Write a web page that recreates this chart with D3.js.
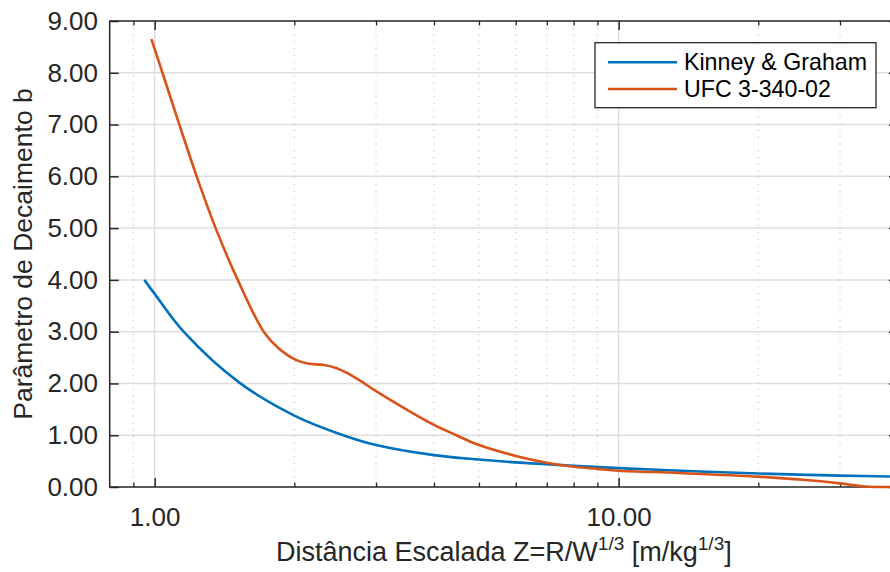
<!DOCTYPE html>
<html>
<head>
<meta charset="utf-8">
<script src="https://cdn.jsdelivr.net/npm/d3@7"></script>
<style>
  body { margin: 0; background: #fff; }
  svg { display: block; }
  text { font-family: "Liberation Sans", Arial, Helvetica, sans-serif; }
</style>
</head>
<body>
<svg id="chart" width="890" height="572"></svg>
<script>
// Decay parameter b versus scaled distance Z
const seriesNames = ["Kinney & Graham", "UFC 3-340-02"];
const seriesColors = ["#0072BD", "#D95319"];

const kinneyZ = [0.95, 1.0, 1.16, 1.52, 2.0, 2.55, 3.0, 4.0, 5.0, 6.0, 7.0, 8.0, 10.0, 15.0, 20, 30, 40];
const kinneyB = [4.00, 3.73, 2.98, 2.02, 1.38, 1.00, 0.81, 0.615, 0.53, 0.475, 0.44, 0.41, 0.365, 0.30, 0.26, 0.22, 0.20];

const ufcZ = [0.984, 1.0395, 1.1304, 1.2319, 1.3534, 1.5101, 1.7179, 1.859, 2.02, 2.15, 2.30, 2.46, 2.59, 2.81, 3.0, 3.5, 4.0, 4.47, 5.0, 6.0, 7.0, 8.0, 9.0, 10.0, 13.5, 20, 25, 30, 34, 40];
const ufcB = [8.65, 8.00, 7.00, 6.00, 5.00, 4.00, 3.00, 2.66, 2.45, 2.38, 2.36, 2.30, 2.21, 2.02, 1.85, 1.49, 1.20, 1.00, 0.81, 0.60, 0.47, 0.39, 0.35, 0.315, 0.27, 0.20, 0.14, 0.07, 0.01, 0.0];

const xMajorTicks = [1, 10];
const xMinorTicks = [0.9, 2, 3, 4, 5, 6, 7, 8, 9, 20, 30];
const yTicks = [0, 1, 2, 3, 4, 5, 6, 7, 8, 9];

const xLabelMain = ["Distância Escalada Z=R/W", " [m/kg", "]"];
const xLabelSup = "1/3";
const yLabel = "Parâmetro de Decaimento b";

const svg = d3.select("#chart");
const plot = { left: 109.7, right: 898, top: 21, bottom: 487 };
const axisColor = "#262626";
const fontFamily = '"Liberation Sans", Arial, Helvetica, sans-serif';

const x = d3.scaleLog().domain([0.8, 40]).range([plot.left, plot.right]);
const y = d3.scaleLinear().domain([0, 9]).range([plot.bottom, plot.top]);

svg.append("rect").attr("width", 890).attr("height", 572).attr("fill", "#fff");

// clipping for grid and data
const defs = svg.append("defs");
defs.append("clipPath").attr("id", "plotClip")
  .append("rect")
  .attr("x", plot.left).attr("y", plot.top - 3)
  .attr("width", plot.right - plot.left).attr("height", plot.bottom - plot.top + 6);

const grid = svg.append("g").attr("clip-path", "url(#plotClip)");

// horizontal major grid
grid.selectAll("line.hgrid").data(yTicks.slice(1, -1)).join("line")
  .attr("x1", plot.left).attr("x2", plot.right)
  .attr("y1", d => y(d)).attr("y2", d => y(d))
  .attr("stroke", "#dedede").attr("stroke-width", 1.5);

// vertical minor grid (dotted)
grid.selectAll("line.vminor").data(xMinorTicks).join("line")
  .attr("x1", d => x(d)).attr("x2", d => x(d))
  .attr("y1", plot.top).attr("y2", plot.bottom)
  .attr("stroke", "#c4c4c4").attr("stroke-width", 1.2)
  .attr("stroke-dasharray", "1.2 5.6");

// vertical major grid
grid.selectAll("line.vmajor").data(xMajorTicks).join("line")
  .attr("x1", d => x(d)).attr("x2", d => x(d))
  .attr("y1", plot.top).attr("y2", plot.bottom)
  .attr("stroke", "#dedede").attr("stroke-width", 1.5);

// axes box
svg.append("rect")
  .attr("x", plot.left).attr("y", plot.top)
  .attr("width", plot.right - plot.left).attr("height", plot.bottom - plot.top)
  .attr("fill", "none").attr("stroke", axisColor).attr("stroke-width", 1.5);

// x axis (bottom) with inward ticks
const xAxisBottom = d3.axisBottom(x).tickValues(xMajorTicks)
  .tickFormat(d3.format(".2f")).tickSizeInner(-9).tickSizeOuter(0).tickPadding(21);
const gxb = svg.append("g").attr("transform", `translate(0,${plot.bottom})`).call(xAxisBottom);
gxb.select(".domain").remove();
gxb.selectAll(".tick line").attr("stroke", axisColor).attr("stroke-width", 1.5);
gxb.selectAll(".tick text").attr("fill", axisColor).attr("font-size", 26).attr("font-family", fontFamily);

const xAxisBottomMinor = d3.axisBottom(x).tickValues(xMinorTicks)
  .tickFormat("").tickSizeInner(-4.5).tickSizeOuter(0);
const gxbm = svg.append("g").attr("transform", `translate(0,${plot.bottom})`).call(xAxisBottomMinor);
gxbm.select(".domain").remove();
gxbm.selectAll(".tick line").attr("stroke", axisColor).attr("stroke-width", 1.3);

// x axis (top) ticks only
const xAxisTop = d3.axisTop(x).tickValues(xMajorTicks).tickFormat("").tickSizeInner(-9).tickSizeOuter(0);
const gxt = svg.append("g").attr("transform", `translate(0,${plot.top})`).call(xAxisTop);
gxt.select(".domain").remove();
gxt.selectAll(".tick line").attr("stroke", axisColor).attr("stroke-width", 1.5);

const xAxisTopMinor = d3.axisTop(x).tickValues(xMinorTicks).tickFormat("").tickSizeInner(-4.5).tickSizeOuter(0);
const gxtm = svg.append("g").attr("transform", `translate(0,${plot.top})`).call(xAxisTopMinor);
gxtm.select(".domain").remove();
gxtm.selectAll(".tick line").attr("stroke", axisColor).attr("stroke-width", 1.3);

// y axis (left)
const yAxis = d3.axisLeft(y).tickValues(yTicks).tickFormat(d3.format(".2f"))
  .tickSizeInner(-9).tickSizeOuter(0).tickPadding(11.7);
const gy = svg.append("g").attr("transform", `translate(${plot.left},0)`).call(yAxis);
gy.select(".domain").remove();
gy.selectAll(".tick line").attr("stroke", axisColor).attr("stroke-width", 1.5);
gy.selectAll(".tick text").attr("fill", axisColor).attr("font-size", 26).attr("font-family", fontFamily);

// y axis (right) ticks
const yAxisR = d3.axisRight(y).tickValues(yTicks).tickFormat("").tickSizeInner(-9).tickSizeOuter(0);
const gyr = svg.append("g").attr("transform", `translate(${plot.right},0)`).call(yAxisR);
gyr.select(".domain").remove();
gyr.selectAll(".tick line").attr("stroke", axisColor).attr("stroke-width", 1.5);

// data lines
const series = [
  { name: seriesNames[0], color: seriesColors[0], z: kinneyZ, b: kinneyB },
  { name: seriesNames[1], color: seriesColors[1], z: ufcZ, b: ufcB }
];
const line = d3.line().x(d => x(d[0])).y(d => y(d[1])).curve(d3.curveCatmullRom.alpha(0.5));
const dataG = svg.append("g").attr("clip-path", "url(#plotClip)");
series.forEach(s => {
  dataG.append("path")
    .datum(s.z.map((z, i) => [z, s.b[i]]))
    .attr("d", line)
    .attr("fill", "none")
    .attr("stroke", s.color)
    .attr("stroke-width", 2.6)
    .attr("stroke-linejoin", "round")
    .attr("stroke-linecap", "butt");
});

// x label with superscripts
const xl = svg.append("text")
  .attr("x", (plot.left + plot.right) / 2)
  .attr("y", 561)
  .attr("text-anchor", "middle")
  .attr("font-size", 27)
  .attr("fill", axisColor);
xl.append("tspan").text(xLabelMain[0]);
xl.append("tspan").attr("dy", -11).attr("font-size", 19).text(xLabelSup);
xl.append("tspan").attr("dy", 11).text(xLabelMain[1]);
xl.append("tspan").attr("dy", -11).attr("font-size", 19).text(xLabelSup);
xl.append("tspan").attr("dy", 11).text(xLabelMain[2]);

// y label
svg.append("text")
  .attr("transform", `translate(32,${(plot.top + plot.bottom) / 2}) rotate(-90)`)
  .attr("text-anchor", "middle")
  .attr("font-size", 26.5)
  .attr("fill", axisColor)
  .text(yLabel);

// legend
const legend = svg.append("g");
legend.append("rect")
  .attr("x", 595).attr("y", 42.7).attr("width", 281).attr("height", 65)
  .attr("fill", "#fff").attr("stroke", axisColor).attr("stroke-width", 1.3);
series.forEach((s, i) => {
  const ly = 62.3 + i * 26.7;
  legend.append("line")
    .attr("x1", 608).attr("x2", 677).attr("y1", ly).attr("y2", ly)
    .attr("stroke", s.color).attr("stroke-width", 2.6);
  legend.append("text")
    .attr("x", 684).attr("y", ly).attr("dy", "0.35em")
    .attr("font-size", 23.2).attr("fill", "#000")
    .text(s.name);
});
</script>
</body>
</html>
